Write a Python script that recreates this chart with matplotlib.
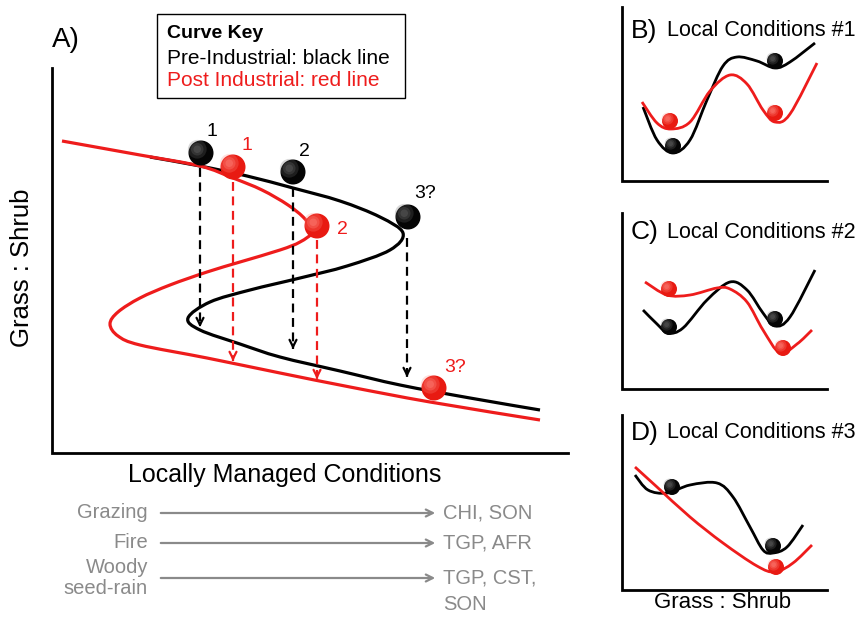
import numpy as np
import matplotlib
matplotlib.use("Agg")
import matplotlib.pyplot as plt
from matplotlib.path import Path
from matplotlib.patches import PathPatch, Circle, Rectangle

plt.rcParams['font.family'] = ['Liberation Sans', 'DejaVu Sans']

# ---------------- data (pixel-space waypoints of the conceptual diagram) -------------
# Panel A: fold (S-shaped) response curves
pre_industrial_curve = [(150, 157), (200, 166), (247, 176), (293, 188), (340, 201), (380, 217),
                        (403, 233), (390, 250), (347, 266), (300, 278), (250, 290), (210, 302),
                        (188, 318), (200, 330), (240, 344), (280, 357), (340, 371), (400, 385),
                        (470, 398), (540, 410)]
post_industrial_curve = [(62, 141), (140, 155), (200, 166), (233, 178), (262, 190), (288, 205),
                         (305, 219), (312, 232), (300, 242), (280, 250), (240, 262), (207, 272),
                         (170, 285), (140, 298), (118, 312), (110, 324), (118, 336), (140, 345),
                         (207, 358), (280, 373), (350, 387), (430, 402), (540, 420)]
balls_black = [(201, 153), (293, 172), (408, 217)]
balls_red = [(233, 167), (317, 226), (434, 388)]
labels_black = ["1", "2", "3?"]
labels_black_pos = [(212, 132), (304, 151), (425, 194)]
labels_red = ["1", "2", "3?"]
labels_red_pos = [(247, 146), (342, 229), (455, 368)]
# dashed drop arrows: (x, y_start, y_end, colour)
drops_x = [200, 233, 293, 317, 407]
drops_y0 = [168, 182, 188, 240, 238]
drops_y1 = [330, 364, 352, 382, 380]
drops_col = ["black", "red", "black", "red", "black"]

# bottom driver list
drivers = ["Grazing", "Fire", "Woody\nseed-rain"]
drivers_y = [513, 543, 578]
regions = ["CHI, SON", "TGP, AFR", "TGP, CST,\nSON"]

# Panels B-D: potential landscapes
B_black = [(643, 107), (657, 140), (673, 153), (690, 140), (707, 100), (723, 66), (737, 57),
           (757, 61), (775, 68), (790, 62), (815, 43)]
B_red = [(642, 102), (657, 123), (671, 129), (690, 122), (710, 91), (730, 75), (747, 84),
         (763, 110), (775, 122), (790, 114), (817, 63)]
B_balls_black = [(673, 146), (775, 61)]
B_balls_red = [(670, 121), (775, 113)]

C_black = [(643, 310), (657, 324), (668, 333), (683, 328), (707, 300), (730, 282), (747, 290),
           (763, 313), (775, 326), (790, 317), (815, 270)]
C_red = [(645, 282), (667, 295), (690, 295), (717, 288), (730, 289), (747, 302), (763, 330),
         (780, 353), (797, 344), (812, 330)]
C_balls_black = [(669, 327), (775, 319)]
C_balls_red = [(669, 289), (783, 348)]

D_black = [(635, 475), (648, 490), (667, 493), (690, 485), (717, 483), (733, 497), (750, 527),
           (763, 550), (773, 553), (787, 547), (803, 525)]
D_red = [(635, 467), (657, 487), (690, 517), (723, 543), (757, 566), (775, 572), (793, 563),
         (812, 545)]
D_balls_black = [(672, 487), (773, 546)]
D_balls_red = [(776, 567)]

panel_titles = ["B)", "C)", "D)"]
panel_subtitles = ["Local Conditions #1", "Local Conditions #2", "Local Conditions #3"]
panel_axes = [(622, 7, 181), (622, 213, 389), (622, 415, 590)]  # x, top, bottom
panel_title_y = [31, 232, 433]

RED = "#ee1c1c"
GRAY = "#8a8a8a"


def smooth_path(points):
    P = np.asarray(points, dtype=float)
    verts = [P[0]]
    codes = [Path.MOVETO]
    n = len(P)
    for i in range(n - 1):
        p0 = P[i - 1] if i > 0 else P[i]
        p1 = P[i]
        p2 = P[i + 1]
        p3 = P[i + 2] if i + 2 < n else P[i + 1]
        c1 = p1 + (p2 - p0) / 6.0
        c2 = p2 - (p3 - p1) / 6.0
        verts += [c1, c2, p2]
        codes += [Path.CURVE4] * 3
    return Path(verts, codes)


def draw_curve(ax, pts, color, lw):
    ax.add_patch(PathPatch(smooth_path(pts), facecolor="none", edgecolor=color, lw=lw,
                           capstyle="butt", joinstyle="round", zorder=3))


def draw_ball(ax, xy, r, color):
    x, y = xy
    if color == "black":
        base, hi = "#050505", "#6a6a6a"
    else:
        base, hi = "#e81a12", "#ff8a80"
    ax.add_patch(Circle((x, y), r, facecolor=base, edgecolor="none", zorder=5))
    for k, a in zip([0.75, 0.5, 0.3], [0.25, 0.3, 0.35]):
        ax.add_patch(Circle((x - 0.3 * r, y - 0.3 * r), r * k, facecolor=hi,
                            edgecolor="none", alpha=a, zorder=6))


fig = plt.figure(figsize=(8.62, 6.2), dpi=100)
ax = fig.add_axes([0, 0, 1, 1])
ax.set_xlim(0, 862)
ax.set_ylim(620, 0)
ax.axis("off")

# ---------- Panel A ----------
ax.plot([52, 52, 568], [68, 453, 453], color="black", lw=2.0, solid_joinstyle="miter")
ax.text(52, 40, "A)", fontsize=20, ha="left", va="center")
ax.add_patch(Rectangle((157, 14), 248, 84, facecolor="white", edgecolor="black", lw=1.0))
ax.text(167, 33, "Curve Key", fontsize=14, fontweight="bold", ha="left", va="center")
ax.text(167, 58, "Pre-Industrial: black line", fontsize=15, ha="left", va="center")
ax.text(167, 81, "Post Industrial: red line", fontsize=15, ha="left", va="center", color=RED)
ax.text(22, 268, "Grass : Shrub", fontsize=18.5, rotation=90, ha="center", va="center")
ax.text(285, 475, "Locally Managed Conditions", fontsize=18, ha="center", va="center")

draw_curve(ax, pre_industrial_curve, "black", 2.3)
draw_curve(ax, post_industrial_curve, RED, 2.3)

for x, y0, y1, c in zip(drops_x, drops_y0, drops_y1, drops_col):
    col = "black" if c == "black" else RED
    ax.plot([x, x], [y0, y1 - 3], color=col, lw=1.6, dashes=(4, 2.5), zorder=4)
    ax.annotate("", xy=(x, y1), xytext=(x, y1 - 10),
                arrowprops=dict(arrowstyle="->,head_length=0.5,head_width=0.25",
                                color=col, lw=1.6), zorder=4)

for xy in balls_black:
    draw_ball(ax, xy, 12.5, "black")
for xy in balls_red:
    draw_ball(ax, xy, 12.5, "red")
for t, (x, y) in zip(labels_black, labels_black_pos):
    ax.text(x, y, t, fontsize=14, ha="center", va="center", color="black")
for t, (x, y) in zip(labels_red, labels_red_pos):
    ax.text(x, y, t, fontsize=14, ha="center", va="center", color=RED)

# driver list
for name, y, reg in zip(drivers, drivers_y, regions):
    ax.text(148, y, name, fontsize=14.5, ha="right", va="center", color=GRAY,
            linespacing=1.15)
    ax.annotate("", xy=(438, y), xytext=(158, y),
                arrowprops=dict(arrowstyle="->,head_length=0.5,head_width=0.25",
                                color=GRAY, lw=1.6))
    lines = reg.split("\n")
    for j, ln in enumerate(lines):
        ax.text(443, y + j * 27, ln, fontsize=14.5, ha="left", va="center", color=GRAY)

# ---------- Panels B-D ----------
curves = [(B_black, B_red, B_balls_black, B_balls_red),
          (C_black, C_red, C_balls_black, C_balls_red),
          (D_black, D_red, D_balls_black, D_balls_red)]
for (px, top, bot), ty, ttl, sub, (cb, cr, bb, br) in zip(panel_axes, panel_title_y,
                                                           panel_titles, panel_subtitles,
                                                           curves):
    ax.plot([px, px, 827], [top, bot, bot], color="black", lw=2.0, solid_joinstyle="miter")
    ax.text(631, ty, ttl, fontsize=19, ha="left", va="center")
    ax.text(667, ty, sub, fontsize=15.5, ha="left", va="center")
    draw_curve(ax, cb, "black", 2.0)
    draw_curve(ax, cr, RED, 2.0)
    for xy in bb:
        draw_ball(ax, xy, 8, "black")
    for xy in br:
        draw_ball(ax, xy, 8, "red")

ax.text(723, 602, "Grass : Shrub", fontsize=16, ha="center", va="center")

fig.savefig("out.png", dpi=100)
